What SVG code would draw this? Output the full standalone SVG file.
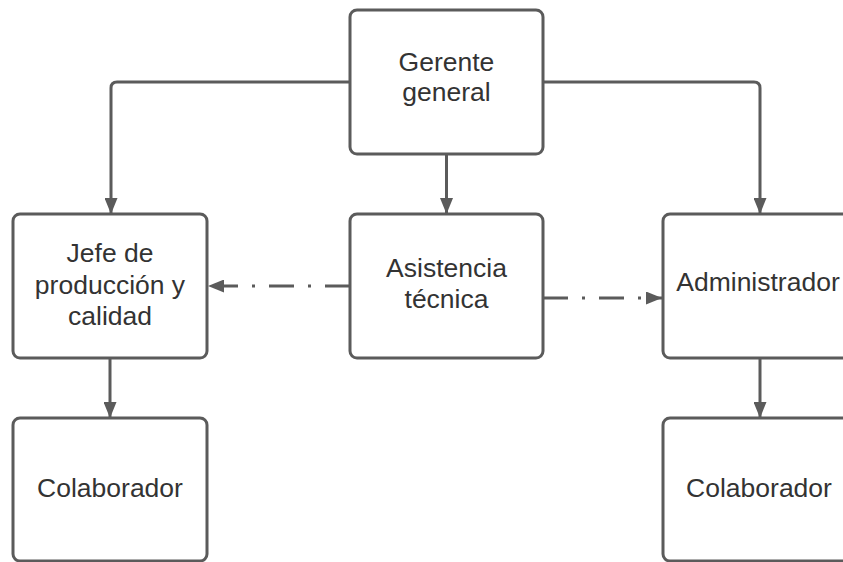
<svg xmlns="http://www.w3.org/2000/svg" width="843" height="562" viewBox="0 0 843 562">
<defs>
<style>
.box{fill:#fff;stroke:#5b5b5b;stroke-width:3}
.t{font-family:"Liberation Sans",Arial,sans-serif;font-size:26.5px;fill:#333;text-anchor:middle}
.c{fill:none;stroke:#5b5b5b;stroke-width:3}
.dd{stroke-dasharray:25 14 3 14}
</style>
<marker id="ah" viewBox="0 0 16 13" refX="16" refY="6.5" markerWidth="16" markerHeight="13" markerUnits="userSpaceOnUse" orient="auto">
<path d="M0 0L16 6.5L0 13Z" fill="#5b5b5b"/>
</marker>
</defs>
<rect width="843" height="562" fill="#fff"/>
<g id="connectors">
<path class="c" d="M350 82H117Q111 82 111 88V214" marker-end="url(#ah)"/>
<path class="c" d="M543 82H754Q760 82 760 88V214" marker-end="url(#ah)"/>
<path class="c" d="M446.5 154V214" marker-end="url(#ah)"/>
<path class="c" d="M110 358V418" marker-end="url(#ah)"/>
<path class="c" d="M760 358V418" marker-end="url(#ah)"/>
<path class="c dd" d="M350 286H208" marker-end="url(#ah)"/>
<path class="c dd" d="M543 298H662" marker-end="url(#ah)"/>
</g>
<g id="gerente">
<rect class="box" x="350" y="10" width="193" height="144" rx="7"/>
<text class="t" x="446.5" y="71">Gerente</text>
<text class="t" x="446.5" y="101">general</text>
</g>
<g id="jefe">
<rect class="box" x="13" y="214" width="194" height="144" rx="7"/>
<text class="t" x="110" y="262">Jefe de</text>
<text class="t" x="110" y="294">producción y</text>
<text class="t" x="110" y="325">calidad</text>
</g>
<g id="asistencia">
<rect class="box" x="350" y="214" width="193" height="144" rx="7"/>
<text class="t" x="446.5" y="277">Asistencia</text>
<text class="t" x="446.5" y="308">técnica</text>
</g>
<g id="administrador">
<rect class="box" x="663" y="214" width="194" height="144" rx="7"/>
<text class="t" x="758" y="291">Administrador</text>
</g>
<g id="colab1">
<rect class="box" x="13" y="418" width="194" height="143" rx="7"/>
<text class="t" x="110" y="497">Colaborador</text>
</g>
<g id="colab2">
<rect class="box" x="663" y="418" width="194" height="143" rx="7"/>
<text class="t" x="759" y="497">Colaborador</text>
</g>
</svg>
